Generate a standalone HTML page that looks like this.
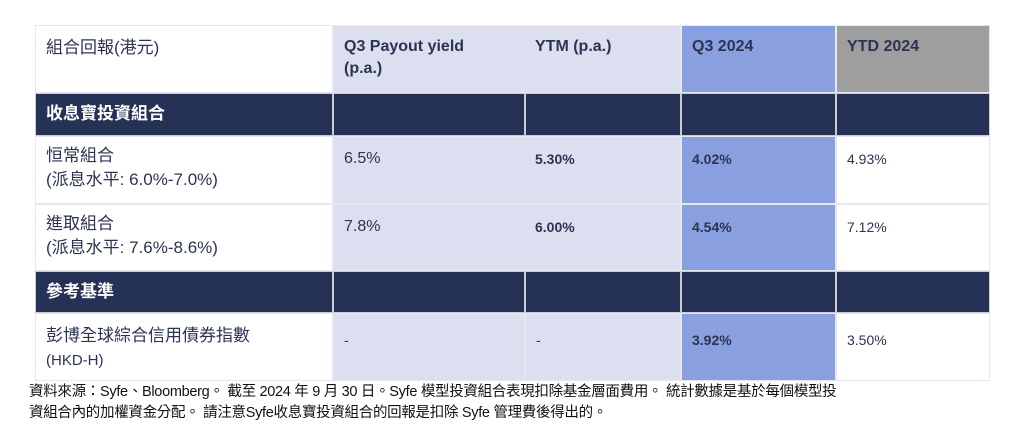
<!DOCTYPE html>
<html><head><meta charset="utf-8"><style>
body{margin:0;width:1024px;height:445px;background:#fff;position:relative;overflow:hidden;font-family:"Liberation Sans","Noto Sans CJK TC",sans-serif;color:#2b3452}
.c{position:absolute;box-sizing:border-box;padding:10px 10px 0 10px;border:1px solid #e6e7ef}
.lav{background:#dcdff0}.blu{background:#8a9fe0}.gry{background:#9e9e9e}.wh{background:#fff}.dk{background:#263156;color:#fff;border-color:#c9cbd6}
.h{font-weight:bold;font-size:16px;line-height:22px}
.t{font-size:17px;line-height:24px}
.v{font-size:14px;line-height:20px}
.b{font-weight:bold}
.foot{position:absolute;left:29px;top:382px;font-size:14.5px;line-height:21px;color:#111;font-family:"Liberation Sans","Noto Sans CJK TC",sans-serif;letter-spacing:-0.3px}
</style></head><body>
<div>
<div class="c wh t" style="left:35px;top:25px;width:298px;height:68px">組合回報(港元)</div>
<div class="c lav h" style="left:333px;top:25px;width:192px;height:68px;border-right:none">Q3 Payout yield<br>(p.a.)</div>
<div class="c lav h" style="left:525px;top:25px;width:156px;height:68px;border-left:none">YTM (p.a.)</div>
<div class="c blu h" style="left:681px;top:25px;width:155px;height:68px">Q3 2024</div>
<div class="c gry h" style="left:836px;top:25px;width:154px;height:68px">YTD 2024</div>

<div class="c dk t b" style="left:35px;top:93px;width:298px;height:43px;padding-top:8px">收息寶投資組合</div>
<div class="c dk" style="left:333px;top:93px;width:192px;height:43px"></div>
<div class="c dk" style="left:525px;top:93px;width:156px;height:43px"></div>
<div class="c dk" style="left:681px;top:93px;width:155px;height:43px"></div>
<div class="c dk" style="left:836px;top:93px;width:154px;height:43px"></div>

<div class="c wh t" style="left:35px;top:136px;width:298px;height:68px;padding-top:7px">恒常組合<br>(派息水平: 6.0%-7.0%)</div>
<div class="c lav t" style="left:333px;top:136px;width:192px;height:68px;border-right:none;font-size:16px">6.5%</div>
<div class="c lav v b" style="left:525px;top:136px;width:156px;height:68px;padding-top:12px;border-left:none">5.30%</div>
<div class="c blu v b" style="left:681px;top:136px;width:155px;height:68px;padding-top:12px">4.02%</div>
<div class="c wh v" style="left:836px;top:136px;width:154px;height:68px;padding-top:12px">4.93%</div>

<div class="c wh t" style="left:35px;top:204px;width:298px;height:67px;padding-top:7px">進取組合<br>(派息水平: 7.6%-8.6%)</div>
<div class="c lav t" style="left:333px;top:204px;width:192px;height:67px;border-right:none;font-size:16px">7.8%</div>
<div class="c lav v b" style="left:525px;top:204px;width:156px;height:67px;padding-top:12px;border-left:none">6.00%</div>
<div class="c blu v b" style="left:681px;top:204px;width:155px;height:67px;padding-top:12px">4.54%</div>
<div class="c wh v" style="left:836px;top:204px;width:154px;height:67px;padding-top:12px">7.12%</div>

<div class="c dk t b" style="left:35px;top:271px;width:298px;height:42px;padding-top:8px">參考基準</div>
<div class="c dk" style="left:333px;top:271px;width:192px;height:42px"></div>
<div class="c dk" style="left:525px;top:271px;width:156px;height:42px"></div>
<div class="c dk" style="left:681px;top:271px;width:155px;height:42px"></div>
<div class="c dk" style="left:836px;top:271px;width:154px;height:42px"></div>

<div class="c wh t" style="left:35px;top:313px;width:298px;height:68px;padding-top:10px">彭博全球綜合信用債券指數<br><span style="font-size:15px">(HKD-H)</span></div>
<div class="c lav v" style="left:333px;top:313px;width:192px;height:68px;padding-top:16px">-</div>
<div class="c lav v" style="left:525px;top:313px;width:156px;height:68px;padding-top:16px">-</div>
<div class="c blu v b" style="left:681px;top:313px;width:155px;height:68px;padding-top:16px">3.92%</div>
<div class="c wh v" style="left:836px;top:313px;width:154px;height:68px;padding-top:16px">3.50%</div>
</div>
<div class="foot">資料來源：Syfe、Bloomberg。 截至 2024 年 9 月 30 日。Syfe 模型投資組合表現扣除基金層面費用。 統計數據是基於每個模型投<br>資組合內的加權資金分配。 請注意Syfe收息寶投資組合的回報是扣除 Syfe 管理費後得出的。</div>
</body></html>
